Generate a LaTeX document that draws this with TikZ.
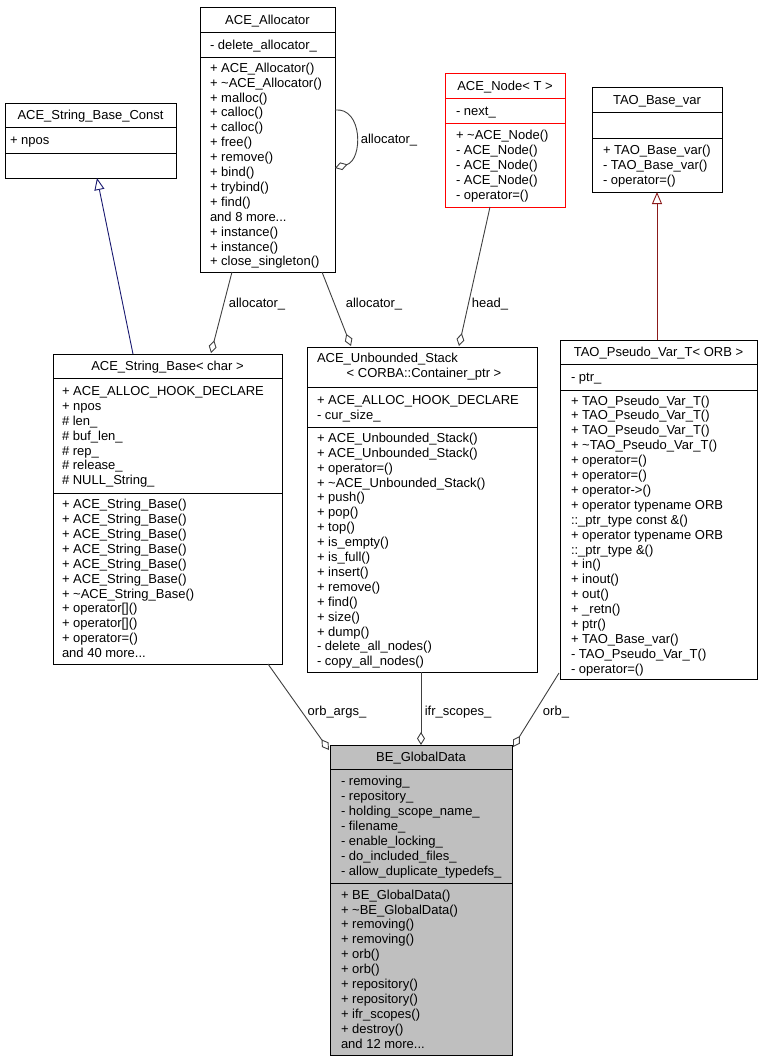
\documentclass[tikz,border=0pt]{standalone}
\usepackage{fontspec}
\setmainfont{Liberation Sans}
\usetikzlibrary{arrows.meta,calc}
\definecolor{edgegrey}{HTML}{404040}
\definecolor{inhblue}{HTML}{191970}
\definecolor{inhred}{HTML}{8B1A1A}
\definecolor{begrey}{HTML}{BFBFBF}
\definecolor{nodered}{HTML}{FF0000}
\newcommand\tdots{...}
\newcommand\membrows[6]{%
  \foreach \t [count=\i] in {#6} {
    \node[mtxt] (#1-\i) at ({#2}, {(#3+#4)/2 - (#5-1)*7.45 + (\i-1)*14.9 + 4.6}) {\t};
  }%
}
\begin{document}
\begin{tikzpicture}[x=1pt,y=-1pt,
  mtxt/.style={anchor=base west, inner sep=0pt, outer sep=0pt, font=\fontsize{13}{14.9}\selectfont},
  ttxt/.style={anchor=base, inner sep=0pt, outer sep=0pt, font=\fontsize{13}{14.9}\selectfont},
  ltxt/.style={anchor=center, inner sep=0pt, outer sep=0pt, font=\fontsize{13}{14.9}\selectfont},
  clsbox/.style={draw=black, line width=1pt, inner sep=0pt, outer sep=0pt},
  sepline/.style={line width=1pt},
  agg/.style={draw=edgegrey, line width=0.9pt, -{Diamond[open, length=13pt, width=8pt, line width=0.9pt]}},
  inh/.style={line width=0.9pt, -{Triangle[open, length=12pt, width=10pt, line width=0.9pt]}}
]
\useasboundingbox (0,0) rectangle (760,1061);
\fill[white] (0,0) rectangle (760,1061);

% ---------- boxes ----------
\node[clsbox, minimum width=171pt, minimum height=75pt] (sbc) at (90.5,140.5) {};
\node[clsbox, minimum width=135pt, minimum height=265pt] (alloc) at (267.5,139.5) {};
\node[clsbox, draw=nodered, minimum width=120pt, minimum height=134pt] (acenode) at (505,140) {};
\node[clsbox, minimum width=130pt, minimum height=105pt] (tbv) at (657,139.5) {};
\node[clsbox, minimum width=229pt, minimum height=310pt] (sb) at (167.5,509) {};
\node[clsbox, minimum width=230pt, minimum height=325pt] (stack) at (422,509.5) {};
\node[clsbox, minimum width=197pt, minimum height=339pt] (tpv) at (658.5,509.5) {};
\node[clsbox, fill=begrey, minimum width=182pt, minimum height=310pt] (be) at (421,900) {};

% ---------- separators ----------
\draw[sepline] (5,127) -- (176,127) (5,153) -- (176,153);
\draw[sepline] (200,32) -- (335,32) (200,57) -- (335,57);
\draw[sepline, nodered] (445,98) -- (565,98) (445,123) -- (565,123);
\draw[sepline] (592,112) -- (722,112) (592,138) -- (722,138);
\draw[sepline] (53,378) -- (282,378) (53,493) -- (282,493);
\draw[sepline] (307,387) -- (537,387) (307,427) -- (537,427);
\draw[sepline] (560,364) -- (757,364) (560,390) -- (757,390);
\draw[sepline] (330,769) -- (512,769) (330,883) -- (512,883);

% ---------- titles ----------
\node[ttxt] (sbc-t) at (90.5,119.6) {ACE\_String\_Base\_Const};
\node[ttxt] (alloc-t) at (267.5,24.1) {ACE\_Allocator};
\node[ttxt] (acenode-t) at (505,90.1) {ACE\_Node< T >};
\node[ttxt] (tbv-t) at (657,104.1) {TAO\_Base\_var};
\node[ttxt] (sb-t) at (167.5,370.6) {ACE\_String\_Base< char >};
\node[mtxt] (stack-t1) at (317,362.6) {ACE\_Unbounded\_Stack};
\node[ttxt] (stack-t2) at (424,377.5) {< CORBA::Container\_ptr >};
\node[ttxt] (tpv-t) at (658.5,356.6) {TAO\_Pseudo\_Var\_T< ORB >};
\node[ttxt] (be-t) at (421,761.6) {BE\_GlobalData};

% ---------- members ----------
\membrows{sbca}{10}{127}{153}{1}{+ npos}
\membrows{alloca}{210}{32}{57}{1}{- delete\_allocator\_}
\membrows{alloco}{210}{57}{272}{14}{+ ACE\_Allocator(), + \textasciitilde ACE\_Allocator(), + malloc(), + calloc(), + calloc(), + free(), + remove(), + bind(), + trybind(), + find(), and 8 more\tdots, + instance(), + instance(), + close\_singleton()}
\membrows{nodea}{456}{98}{123}{1}{- next\_}
\membrows{nodeo}{456}{123}{207}{5}{+ \textasciitilde ACE\_Node(), - ACE\_Node(), - ACE\_Node(), - ACE\_Node(), - operator=()}
\membrows{tbvo}{603}{138}{192}{3}{+ TAO\_Base\_var(), - TAO\_Base\_var(), - operator=()}
\membrows{sba}{62}{378}{493}{7}{+ ACE\_ALLOC\_HOOK\_DECLARE, + npos, \# len\_, \# buf\_len\_, \# rep\_, \# release\_, \# NULL\_String\_}
\membrows{sbo}{62}{493}{664}{11}{+ ACE\_String\_Base(), + ACE\_String\_Base(), + ACE\_String\_Base(), + ACE\_String\_Base(), + ACE\_String\_Base(), + ACE\_String\_Base(), + \textasciitilde ACE\_String\_Base(), + operator{[]}(), + operator{[]}(), + operator=(), and 40 more\tdots}
\membrows{stacka}{317}{387}{427}{2}{+ ACE\_ALLOC\_HOOK\_DECLARE, - cur\_size\_}
\membrows{stacko}{317}{427}{672}{16}{+ ACE\_Unbounded\_Stack(), + ACE\_Unbounded\_Stack(), + operator=(), + \textasciitilde ACE\_Unbounded\_Stack(), + push(), + pop(), + top(), + is\_empty(), + is\_full(), + insert(), + remove(), + find(), + size(), + dump(), - delete\_all\_nodes(), - copy\_all\_nodes()}
\membrows{tpva}{571}{364}{390}{1}{- ptr\_}
\membrows{tpvo}{571}{390}{679}{19}{+ TAO\_Pseudo\_Var\_T(), + TAO\_Pseudo\_Var\_T(), + TAO\_Pseudo\_Var\_T(), + \textasciitilde TAO\_Pseudo\_Var\_T(), + operator=(), + operator=(), + operator->(), + operator typename ORB, ::\_ptr\_type const \&(), + operator typename ORB, ::\_ptr\_type \&(), + in(), + inout(), + out(), + \_retn(), + ptr(), + TAO\_Base\_var(), - TAO\_Pseudo\_Var\_T(), - operator=()}
\membrows{bea}{341}{769}{883}{7}{- removing\_, - repository\_, - holding\_scope\_name\_, - filename\_, - enable\_locking\_, - do\_included\_files\_, - allow\_duplicate\_typedefs\_}
\membrows{beo}{341}{883}{1055}{11}{+ BE\_GlobalData(), + \textasciitilde BE\_GlobalData(), + removing(), + removing(), + orb(), + orb(), + repository(), + repository(), + ifr\_scopes(), + destroy(), and 12 more\tdots}

% ---------- connectors ----------
\draw[inh, inhblue] ([xshift=80pt]sb.north west) -- ([xshift=92pt]sbc.south west);
\draw[inh, inhred] ([xshift=97pt]tpv.north west) -- ([xshift=65pt]tbv.south west);
\draw[agg] ([xshift=32pt]alloc.south west) -- ([xshift=158pt,yshift=1pt]sb.north west);
\draw[agg] ([xshift=122pt]alloc.south west) -- ([xshift=44pt,yshift=1pt]stack.north west);
\draw[agg] ([xshift=45pt]acenode.south west) -- ([xshift=152pt,yshift=1pt]stack.north west);
\draw[agg] ([yshift=-103pt]alloc.north east) .. controls +(28pt,3pt) and +(28pt,8pt) .. ([yshift=-161pt]alloc.north east);
\draw[agg] ([xshift=215pt]sb.south west) -- ([xshift=-1pt,yshift=-5pt]be.north west);
\draw[agg] ([xshift=114pt]stack.south west) -- ([xshift=91pt]be.north west);
\draw[agg] ([xshift=-1pt,yshift=6pt]tpv.south west) -- ([xshift=1pt,yshift=-2pt]be.north east);

% ---------- labels ----------
\node[ltxt] (l-alloc-self) at (389,140) {allocator\_};
\node[ltxt] (l-alloc-sb) at (257,304) {allocator\_};
\node[ltxt] (l-alloc-st) at (374,304) {allocator\_};
\node[ltxt] (l-head) at (490,304) {head\_};
\node[ltxt] (l-orbargs) at (337,712) {orb\_args\_};
\node[ltxt] (l-ifr) at (458,712) {ifr\_scopes\_};
\node[ltxt] (l-orb) at (556,712) {orb\_};
\end{tikzpicture}
\end{document}
